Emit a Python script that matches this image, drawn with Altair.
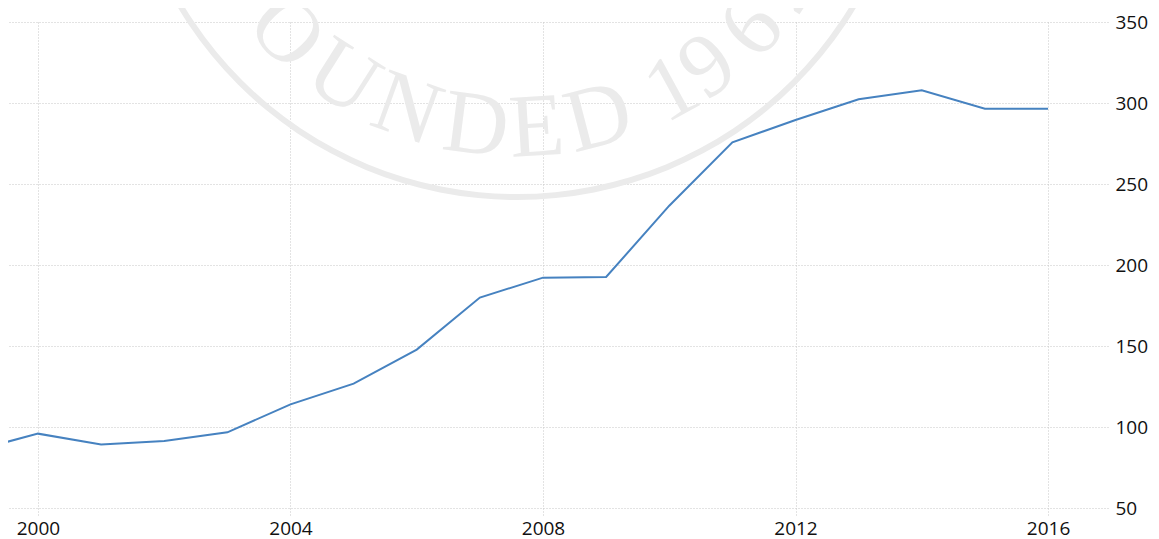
import math
import altair as alt
import pandas as pd

# ---- data ----
years = [1999, 2000, 2001, 2002, 2003, 2004, 2005, 2006, 2007, 2008,
         2009, 2010, 2011, 2012, 2013, 2014, 2015, 2016]
values = [85.5, 95.9, 89.2, 91.4, 96.7, 114.0, 126.8, 147.8, 179.9, 192.2,
          192.6, 236.6, 275.7, 289.5, 302.3, 307.9, 296.4, 296.4]
x_ticks = [2000, 2004, 2008, 2012, 2016]
y_ticks = [50, 100, 150, 200, 250, 300, 350]

# ---- decorative watermark (seal) ----
wm_letters = ["F", "O", "U", "N", "D", "E", "D", "1", "9", "6", "2"]
wm_angles = [-58.0, -45.4, -32.5, -19.9, -7.3, 3.5, 14.6, 28.6, 36.1, 46.6, 56.5]

W, H = 1100, 486
FONT = "Open Sans"
GRID = "#c6c6c6"
WM = "#ebebeb"
cx, cy, r_text, r_ring = 509, -217, 324, 392

df = pd.DataFrame({"year": years, "value": values})
wm = pd.DataFrame({
    "ch": wm_letters,
    "px": [cx + r_text * math.sin(math.radians(a)) for a in wm_angles],
    "py": [cy + r_text * math.cos(math.radians(a)) for a in wm_angles],
    "rot": [(-a) % 360 for a in wm_angles],
})

ring = alt.Chart(pd.DataFrame({"k": [0]})).mark_arc(
    radius=r_ring - 3, radius2=r_ring + 3, theta=0, theta2=2 * math.pi,
    color=WM, stroke=None
).encode(x=alt.value(cx), y=alt.value(cy))

letters = alt.Chart(wm).mark_text(
    font="Liberation Serif", fontSize=90, color=WM, align="center", baseline="middle"
).encode(
    x=alt.X("px:Q", scale=None, axis=None),
    y=alt.Y("py:Q", scale=None, axis=None),
    text="ch:N",
    angle=alt.Angle("rot:Q", scale=None),
)

line = alt.Chart(df).mark_line(color="#4682c0", strokeWidth=2, clip=True).encode(
    x=alt.X("year:Q", scale=alt.Scale(domain=[1999.525, 2016.95], nice=False, zero=False),
            axis=alt.Axis(values=x_ticks, format="d", title=None, grid=True,
                          gridColor=GRID, gridDash=[1, 2], domain=False,
                          ticks=True, tickColor=GRID, tickDash=[1, 2], tickSize=7,
                          labelFont=FONT, labelFontSize=19, labelColor="#111",
                          labelPadding=4)),
    y=alt.Y("value:Q", scale=alt.Scale(domain=[50, 350], nice=False, zero=False),
            axis=alt.Axis(orient="right", values=y_ticks, title=None, grid=True,
                          gridColor=GRID, gridDash=[1, 2], domain=False, ticks=False,
                          labelFont=FONT, labelFontSize=19, labelColor="#111",
                          labelPadding=7, labelBaseline="middle")),
)

chart = alt.layer(ring, letters, line).resolve_scale(
    x="independent", y="independent"
).properties(
    width=W, height=H,
    autosize=alt.AutoSizeParams(type="none"),
    padding={"left": 0, "top": 14, "right": 43, "bottom": 31},
).configure_view(stroke=None)

chart.save("out.html", embed_options={"renderer": "svg", "actions": False})
